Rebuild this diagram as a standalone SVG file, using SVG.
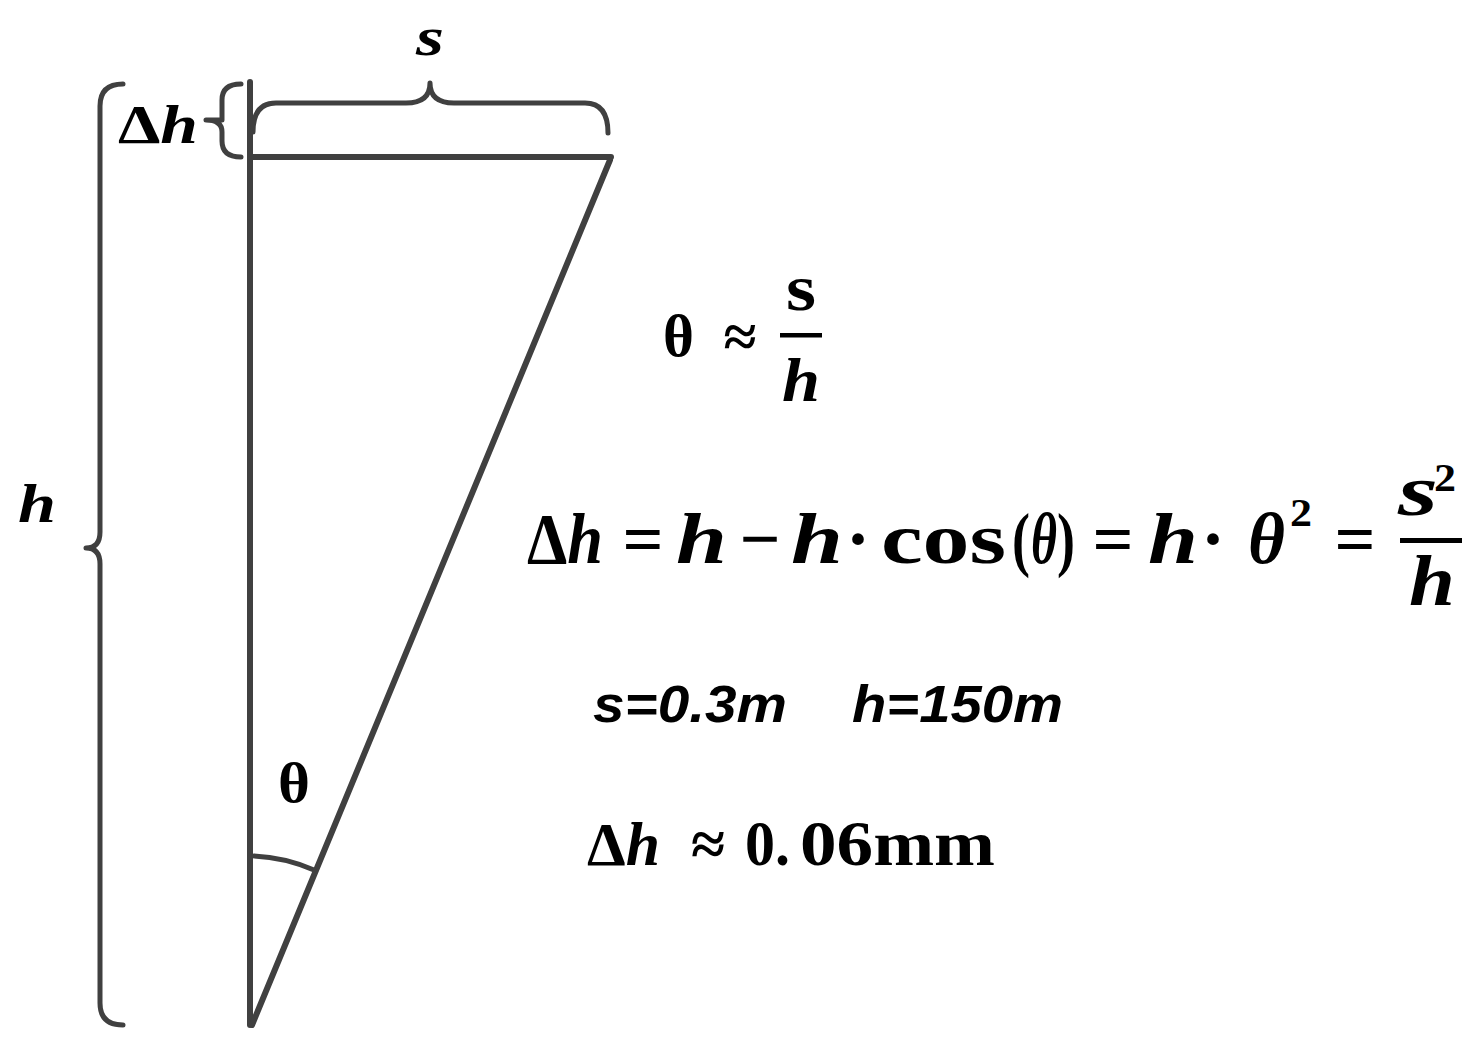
<svg xmlns="http://www.w3.org/2000/svg" width="1484" height="1055" viewBox="0 0 1484 1055">
<style>
.ln{fill:none;stroke:#404040;stroke-width:6;stroke-linecap:round;stroke-linejoin:round}
.br{fill:none;stroke:#404040;stroke-width:5;stroke-linecap:round;stroke-linejoin:round}
.m{font-family:"Liberation Serif","Times New Roman",serif;font-weight:bold;fill:#000}
.i{font-style:italic}
.c{text-anchor:middle}
.sans{font-family:"Liberation Sans",Arial,sans-serif;font-weight:bold;font-style:italic;fill:#000}
</style>
<rect width="1484" height="1055" fill="#fff"/>
<g id="triangle">
<path class="ln" d="M250,82 L250,1025"/>
<path class="ln" d="M250,157 L611,157"/>
<path class="ln" d="M610,160 L252,1025"/>
<path class="br" d="M254,856 A170 170 0 0 1 314,870"/>
</g>
<g id="brace-h">
<path class="br" d="M123,84 Q100,84 100,106 L100,532 Q100,548 86,548 Q100,548 100,564 L100,1003 Q100,1025 123,1025"/>
<text class="m i" x="18" y="522" font-size="54" textLength="38" lengthAdjust="spacingAndGlyphs">h</text>
</g>
<g id="brace-dh">
<path class="br" d="M241,84 Q222,84 222,100 L222,108 Q222,120 222,120 Q222,120 206,120 Q222,120 222,132 L222,141 Q222,157 241,157"/>
<text class="m" x="118" y="143" font-size="54" textLength="80" lengthAdjust="spacingAndGlyphs">Δ<tspan class="i">h</tspan></text>
</g>
<g id="brace-s">
<path class="br" d="M253,132 Q253,103 276,103 L406,103 Q430,103 430,83 Q430,103 454,103 L585,103 Q608,103 608,133"/>
<text class="m i" x="416" y="55" font-size="54" textLength="28" lengthAdjust="spacingAndGlyphs">s</text>
</g>
<g id="theta-label">
<text class="m" x="278" y="802" font-size="56" textLength="32" lengthAdjust="spacingAndGlyphs">θ</text>
</g>
<g id="eq1">
<text class="m" x="663" y="356" font-size="60" textLength="31" lengthAdjust="spacingAndGlyphs">θ</text>
<text class="m c" x="740" y="357" font-size="60">≈</text>
<text class="m" x="786" y="310" font-size="66" textLength="30" lengthAdjust="spacingAndGlyphs">s</text>
<rect x="780" y="333" width="42" height="4.5" fill="#000"/>
<text class="m i" x="782" y="401" font-size="62" textLength="38" lengthAdjust="spacingAndGlyphs">h</text>
</g>
<g id="eq2" font-size="72">
<text class="m" x="527" y="563" textLength="76" lengthAdjust="spacingAndGlyphs">Δ<tspan class="i">h</tspan></text>
<text class="m c" x="643" y="563">=</text>
<text class="m i" x="676" y="563" textLength="51" lengthAdjust="spacingAndGlyphs">h</text>
<text class="m c" x="760" y="563">−</text>
<text class="m i" x="791" y="563" textLength="52" lengthAdjust="spacingAndGlyphs">h</text>
<text class="m c" x="858" y="563">·</text>
<text class="m" x="881" y="563" textLength="125" lengthAdjust="spacingAndGlyphs">cos</text>
<text class="m" x="1012" y="563" font-weight="normal" textLength="18" lengthAdjust="spacingAndGlyphs">(</text>
<text class="m i" x="1031" y="563" textLength="26" lengthAdjust="spacingAndGlyphs">θ</text>
<text class="m" x="1057" y="563" font-weight="normal" textLength="18" lengthAdjust="spacingAndGlyphs">)</text>
<text class="m c" x="1113" y="563">=</text>
<text class="m i" x="1148" y="563" textLength="50" lengthAdjust="spacingAndGlyphs">h</text>
<text class="m c" x="1213" y="563">·</text>
<text class="m i" x="1248" y="563" textLength="37" lengthAdjust="spacingAndGlyphs">θ</text>
<text class="m" x="1290" y="526" font-size="40" textLength="22" lengthAdjust="spacingAndGlyphs">2</text>
<text class="m c" x="1355" y="563">=</text>
<text class="m i" x="1398" y="515" textLength="40" lengthAdjust="spacingAndGlyphs">s</text>
<text class="m" x="1434" y="491" font-size="40" textLength="22" lengthAdjust="spacingAndGlyphs">2</text>
<rect x="1400" y="538" width="62" height="5" fill="#000"/>
<text class="m i" x="1409" y="605" textLength="46" lengthAdjust="spacingAndGlyphs">h</text>
</g>
<g id="values">
<text class="sans" x="593" y="722" font-size="52" textLength="194" lengthAdjust="spacingAndGlyphs">s=0.3m</text>
<text class="sans" x="852" y="722" font-size="52" textLength="211" lengthAdjust="spacingAndGlyphs">h=150m</text>
</g>
<g id="result">
<text class="m" x="587" y="865" font-size="62" textLength="73" lengthAdjust="spacingAndGlyphs">Δ<tspan class="i">h</tspan></text>
<text class="m c" x="708" y="865" font-size="62">≈</text>
<text class="m" x="745" y="865" font-size="64" textLength="45" lengthAdjust="spacingAndGlyphs">0.</text>
<text class="m" x="800" y="865" font-size="64" textLength="195" lengthAdjust="spacingAndGlyphs">06mm</text>
</g>
</svg>
